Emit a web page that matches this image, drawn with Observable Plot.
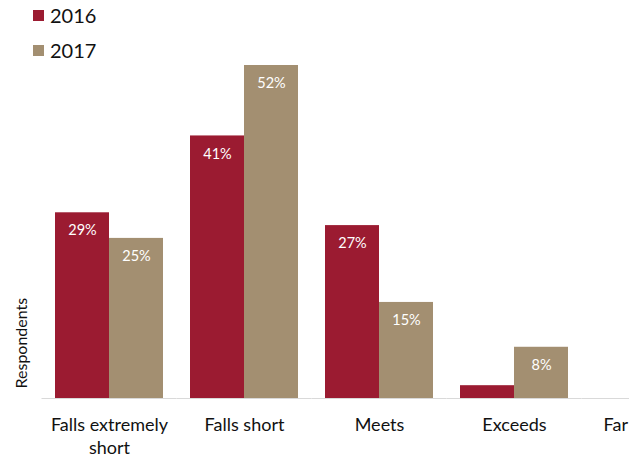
<!DOCTYPE html>
<html>
<head>
<meta charset="utf-8">
<script src="https://cdn.jsdelivr.net/npm/d3@7"></script>
<script src="https://cdn.jsdelivr.net/npm/@observablehq/plot@0.6"></script>
<style>
  html, body { margin: 0; padding: 0; background: #fff; overflow: hidden; }
  #wrap { position: relative; width: 629px; height: 457px; overflow: hidden; }
  #chart svg { max-width: none !important; display: block; }
  #legend { position: absolute; left: 33px; top: 0; font-family: Lato, "Open Sans", sans-serif; font-size: 20px; color: #111; }
  .item { display: flex; align-items: center; height: 40px; }
  .item:first-child { height: 30px; }
  .sw { width: 11px; height: 11px; margin-right: 6px; }
</style>
</head>
<body>
<div id="wrap"><div id="chart"></div><div id="legend"></div></div>
<script>
const categories = ["Falls extremely short", "Falls short", "Meets", "Exceeds", "Far exceeds"];
const tickLabels = ["Falls extremely\nshort", "Falls short", "Meets", "Exceeds", "Far exceeds"];
const years = ["2016", "2017"];
const values2016 = [29, 41, 27, 2, 0];
const values2017 = [25, 52, 15, 8, 0];
const labels2016 = ["29%", "41%", "27%", "", ""];
const labels2017 = ["25%", "52%", "15%", "8%", ""];
const colors = ["#9b1b31", "#a38f71"];
const yTitle = "Respondents";

const data = [];
categories.forEach((c, i) => {
  data.push({category: c, year: years[0], value: values2016[i], label: labels2016[i]});
  data.push({category: c, year: years[1], value: values2017[i], label: labels2017[i]});
});

const chart = Plot.plot({
  width: 717,
  height: 457,
  marginLeft: 41.5,
  marginRight: 0.5,
  marginTop: 65,
  marginBottom: 59,
  style: {fontFamily: "Lato, 'Open Sans', sans-serif", background: "#fff", color: "#111", maxWidth: "none"},
  fx: {domain: categories, padding: 0, round: false, label: null},
  x: {domain: years, paddingInner: 0, paddingOuter: 0.25, round: false, axis: null},
  y: {domain: [0, 52], axis: null},
  color: {domain: years, range: colors},
  marks: [
    Plot.barY(data, {fx: "category", x: "year", y: "value", fill: "year"}),
    Plot.text(data, {fx: "category", x: "year", y: "value", text: "label", fill: "white", dy: 18, fontSize: 14.5}),
    Plot.ruleY([0], {stroke: "#d9d9d9", strokeWidth: 1.2}),
    Plot.axisFx({anchor: "bottom", tickSize: 0, tickPadding: 16, fontSize: 18, lineHeight: 1.28,
      tickFormat: d => tickLabels[categories.indexOf(d)], label: null}),
    Plot.text([yTitle], {fx: () => categories[0], text: d => d, frameAnchor: "bottom-left",
      rotate: -90, textAnchor: "start", lineAnchor: "middle", dx: -20, dy: -10, fontSize: 16, fill: "#111"})
  ]
});
document.getElementById("chart").appendChild(chart);

const legend = document.getElementById("legend");
years.forEach((y, i) => {
  const item = document.createElement("div");
  item.className = "item";
  const sw = document.createElement("div");
  sw.className = "sw";
  sw.style.background = colors[i];
  const t = document.createElement("span");
  t.textContent = y;
  item.appendChild(sw);
  item.appendChild(t);
  legend.appendChild(item);
});
</script>
</body>
</html>
